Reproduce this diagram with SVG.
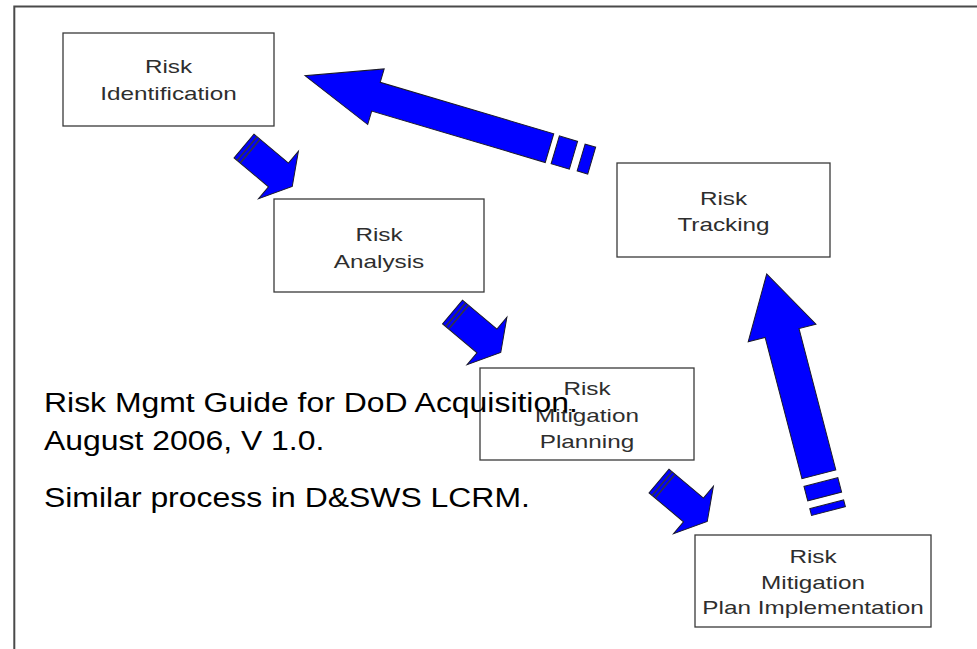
<svg xmlns="http://www.w3.org/2000/svg" xmlns:xlink="http://www.w3.org/1999/xlink" width="977" height="649" viewBox="0 0 977 649">
<style>
.frame{fill:none;stroke:#4a4a4a;stroke-width:2}
.box{fill:#ffffff;stroke:#3a3a3a;stroke-width:1.3}
.lbl{font-family:"Liberation Sans",Arial,sans-serif;font-size:18px;fill:#2e2e2e;text-anchor:middle}
.note{font-family:"Liberation Sans",Arial,sans-serif;font-size:28px;fill:#000000}
.arr{fill:#0000ff;stroke:#1a1a2a;stroke-width:1;stroke-linejoin:miter}
.stripe{stroke:#333344;stroke-width:1.6}
</style>
<defs>
<g id="smallArrow">
<polygon class="arr" points="0,-15.5 45,-15.5 45,-31 63,0 45,31 45,15.5 0,15.5"/>
<line class="stripe" x1="4" y1="-15.5" x2="4" y2="15.5"/>
<line class="stripe" x1="8" y1="-15.5" x2="8" y2="15.5"/>
</g>
</defs>
<rect width="977" height="649" fill="#ffffff"/>
<polyline class="frame" points="14.3,649 14.3,6.5 977,6.5"/>

<g id="connectors">
<use xlink:href="#smallArrow" transform="translate(244 146) rotate(40)"/>
<use xlink:href="#smallArrow" transform="translate(452.5 312) rotate(40)"/>
<use xlink:href="#smallArrow" transform="translate(659 481) rotate(40)"/>
<g transform="translate(305 75.7) rotate(196.5)">
<polygon class="arr" points="0,0 -74,-29 -74,-15 -255,-15 -255,15 -74,15 -74,29"/>
<polygon class="arr" points="-261,-14.5 -280,-14.5 -280,14.5 -261,14.5"/>
<polygon class="arr" points="-288,-14 -299,-14 -299,14 -288,14"/>
</g>
<g transform="translate(766.7 274) rotate(255.4)">
<polygon class="arr" points="0,0 -61,-35 -61,-17.5 -207,-17.5 -207,17.5 -61,17.5 -61,35"/>
<polygon class="arr" points="-215,-17.5 -230,-17.5 -230,17.5 -215,17.5"/>
<polygon class="arr" points="-238,-17.5 -245,-17.5 -245,17.5 -238,17.5"/>
</g>
</g>

<g id="risk-identification">
<rect class="box" x="63" y="33" width="211" height="93"/>
<text class="lbl" transform="translate(168.5 73) scale(1.35 1)">Risk</text>
<text class="lbl" transform="translate(168.5 100) scale(1.35 1)">Identification</text>
</g>
<g id="risk-analysis">
<rect class="box" x="274" y="199" width="210" height="93"/>
<text class="lbl" transform="translate(379 241) scale(1.35 1)">Risk</text>
<text class="lbl" transform="translate(379 268) scale(1.35 1)">Analysis</text>
</g>
<g id="risk-mitigation-planning">
<rect class="box" x="480" y="368" width="214" height="92"/>
<text class="lbl" transform="translate(587 395) scale(1.35 1)">Risk</text>
<text class="lbl" transform="translate(587 421.5) scale(1.35 1)">Mitigation</text>
<text class="lbl" transform="translate(587 448) scale(1.35 1)">Planning</text>
</g>
<g id="risk-mitigation-plan-implementation">
<rect class="box" x="695" y="535" width="236" height="92"/>
<text class="lbl" transform="translate(813 563) scale(1.35 1)">Risk</text>
<text class="lbl" transform="translate(813 589) scale(1.35 1)">Mitigation</text>
<text class="lbl" transform="translate(813 614) scale(1.35 1)">Plan Implementation</text>
</g>
<g id="risk-tracking">
<rect class="box" x="617" y="163" width="213" height="94"/>
<text class="lbl" transform="translate(723.5 205) scale(1.35 1)">Risk</text>
<text class="lbl" transform="translate(723.5 231) scale(1.35 1)">Tracking</text>
</g>

<g id="source-note">
<text class="note" transform="translate(44 411.5) scale(1.14 1)">Risk Mgmt Guide for DoD Acquisition.</text>
<text class="note" transform="translate(44 450) scale(1.14 1)">August 2006, V 1.0.</text>
<text class="note" transform="translate(44 506.5) scale(1.14 1)">Similar process in D&amp;SWS LCRM.</text>
</g>
</svg>
